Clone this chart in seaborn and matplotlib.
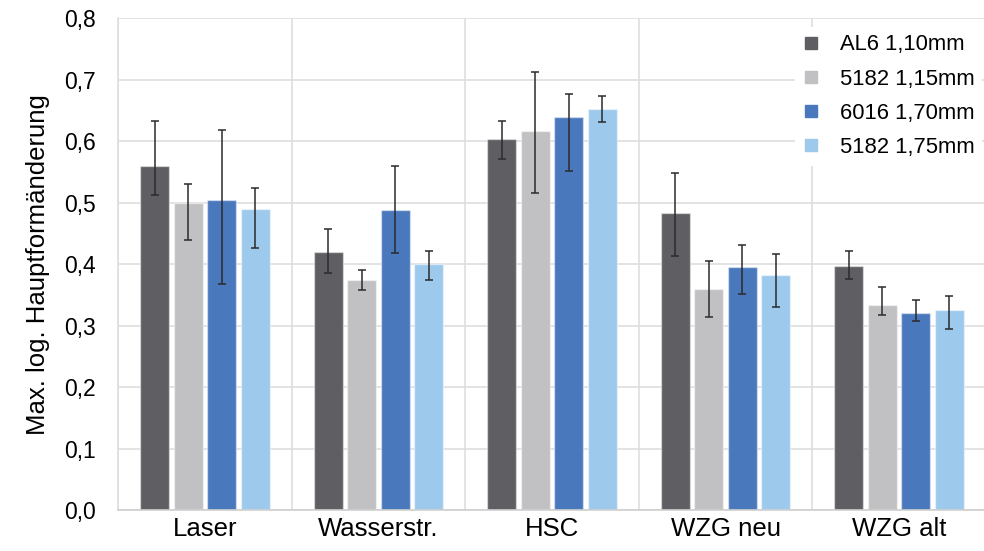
import pandas as pd
import numpy as np
import matplotlib
matplotlib.use('Agg')
import matplotlib.pyplot as plt
from matplotlib.lines import Line2D
import seaborn as sb

# categories and series
categories = ['Laser', 'Wasserstr.', 'HSC', 'WZG neu', 'WZG alt']
series = ['AL6 1,10mm', '5182 1,15mm', '6016 1,70mm', '5182 1,75mm']
colors = ['#5f5f63', '#c1c1c3', '#4a78bd', '#9dc9ed']

# mean values per series (same order as categories)
al6_110 = [0.560, 0.420, 0.604, 0.483, 0.397]
s5182_115 = [0.499, 0.375, 0.617, 0.359, 0.334]
s6016_170 = [0.505, 0.488, 0.639, 0.396, 0.321]
s5182_175 = [0.489, 0.401, 0.653, 0.382, 0.326]

# error bar ends (upper / lower)
al6_110_hi = [0.633, 0.458, 0.633, 0.548, 0.422]
al6_110_lo = [0.513, 0.386, 0.571, 0.413, 0.376]
s5182_115_hi = [0.530, 0.391, 0.713, 0.405, 0.363]
s5182_115_lo = [0.440, 0.358, 0.516, 0.314, 0.318]
s6016_170_hi = [0.618, 0.559, 0.676, 0.431, 0.341]
s6016_170_lo = [0.368, 0.418, 0.551, 0.351, 0.307]
s5182_175_hi = [0.524, 0.421, 0.674, 0.417, 0.348]
s5182_175_lo = [0.426, 0.374, 0.631, 0.331, 0.294]

means = [al6_110, s5182_115, s6016_170, s5182_175]
highs = [al6_110_hi, s5182_115_hi, s6016_170_hi, s5182_175_hi]
lows = [al6_110_lo, s5182_115_lo, s6016_170_lo, s5182_175_lo]

rows = []
for s, vals in zip(series, means):
    for c, v in zip(categories, vals):
        rows.append({'Kategorie': c, 'Serie': s, 'Wert': v})
df = pd.DataFrame(rows)

sb.set_style('white')
plt.rcParams['font.family'] = ['Liberation Sans', 'DejaVu Sans']
plt.rcParams['text.color'] = 'black'
plt.rcParams['xtick.color'] = 'black'
plt.rcParams['ytick.color'] = 'black'
plt.rcParams['axes.labelcolor'] = 'black'

fig = plt.figure(figsize=(9.84, 5.51), dpi=100)
ax = fig.add_axes([0.120, 0.074, 0.882, 0.893])

sb.barplot(data=df, x='Kategorie', y='Wert', hue='Serie', order=categories,
           hue_order=series, palette=colors, saturation=1, width=0.773, gap=0.135,
           errorbar=None, edgecolor=(1, 1, 1, 0.45), linewidth=1.0, ax=ax,
           legend=False)

# asymmetric error bars
for cont, m, hi, lo in zip(ax.containers, means, highs, lows):
    xs = [p.get_x() + p.get_width() / 2 for p in cont.patches]
    m = np.array(m)
    yerr = [m - np.array(lo), np.array(hi) - m]
    ax.errorbar(xs, m, yerr=yerr, fmt='none', ecolor='#2b2b2b',
                elinewidth=1.1, capsize=3, capthick=1.1, zorder=5)

ax.set_ylim(0, 0.8)
ax.set_xlim(-0.5, 4.5)
yt = np.round(np.arange(0, 0.81, 0.1), 1)
ax.set_yticks(yt)
ax.set_yticklabels([f'{v:.1f}'.replace('.', ',') for v in yt], fontsize=16.5)
ax.set_xticks(range(len(categories)))
ax.set_xticklabels(categories, fontsize=18.5)
ax.set_xticks(np.arange(-0.5, 4.6, 1), minor=True)
ax.tick_params(axis='both', which='both', length=0)
ax.tick_params(axis='y', pad=16)
ax.tick_params(axis='x', pad=5)
ax.grid(axis='y', which='major', color='#dedede', linewidth=1.2)
ax.grid(axis='x', which='minor', color='#dedede', linewidth=1.2)
ax.set_axisbelow(True)
for side in ['top', 'right']:
    ax.spines[side].set_visible(False)
ax.spines['left'].set_color('#dedede')
ax.spines['bottom'].set_color('#cfcfcf')
ax.spines['left'].set_linewidth(1.2)
ax.spines['bottom'].set_linewidth(1.2)

ax.set_xlabel('')
ax.set_ylabel('Max. log. Hauptformänderung', fontsize=18.5, labelpad=10)

handles = [Line2D([0], [0], marker='s', linestyle='none', markersize=8,
                  markerfacecolor=c, markeredgecolor=c) for c in colors]
leg = ax.legend(handles, series, loc='upper right', bbox_to_anchor=(1.008, 1.005),
                fontsize=15.8, frameon=True, framealpha=1, edgecolor='white',
                fancybox=False, handlelength=0.8, handletextpad=0.9,
                labelspacing=0.6, borderpad=0.35)
leg.get_frame().set_linewidth(0)

fig.savefig('out.png', dpi=100)
